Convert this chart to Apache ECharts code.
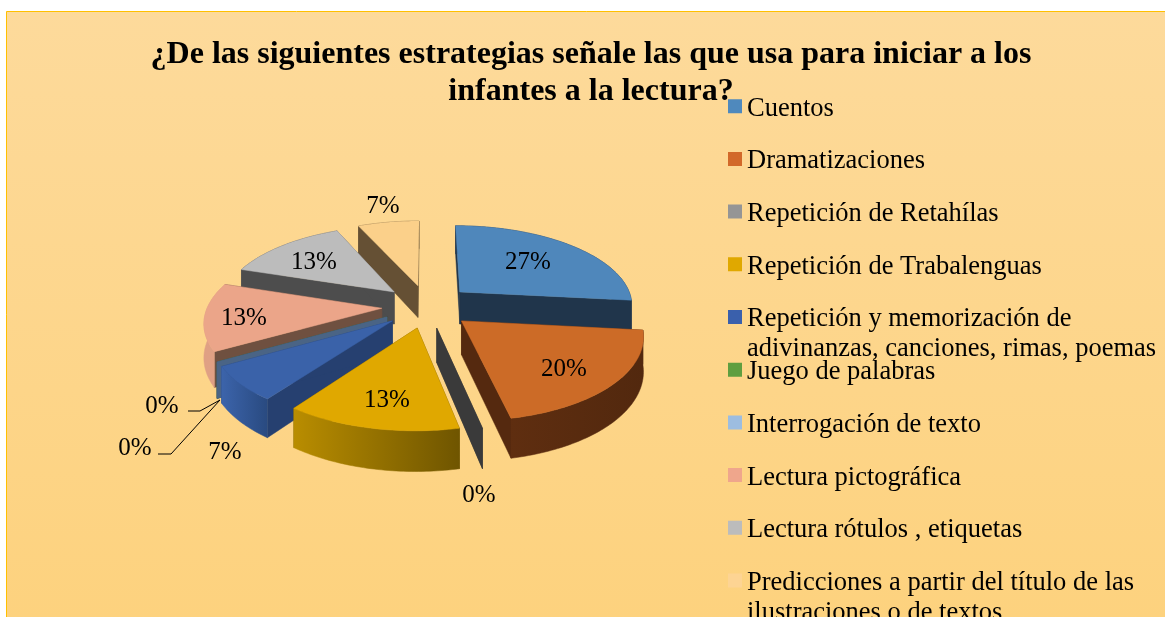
<!DOCTYPE html>
<html>
<head>
<meta charset="utf-8">
<style>html,body{margin:0;padding:0;background:#fff;overflow:hidden}#c{width:1165px;height:617px}</style>
<script src="https://cdn.jsdelivr.net/npm/echarts@6/dist/echarts.min.js"></script>
</head>
<body>
<div id="c"></div>
<script>
const titleText = '¿De las siguientes estrategias señale las que usa para iniciar a los\ninfantes a la lectura?';
const categories = ['Cuentos','Dramatizaciones','Repetición de Retahílas','Repetición de Trabalenguas',
  'Repetición y memorización de\nadivinanzas, canciones, rimas, poemas','Juego de palabras',
  'Interrogación de texto','Lectura pictográfica','Lectura rótulos , etiquetas',
  'Predicciones a partir del título de las\nilustraciones o de textos'];
const percentages = [26.7,20,0,13.3,6.7,0,0,13.3,13.3,6.7];

const topColors  = ['#4f87bb','#cc6b27','#a5a5a5','#e0a800','#3a62a9','#5f9e40','#9dbde0','#eba589','#bcbcbc','#fbd08a'];
const keyColors  = ['#4f89bd','#d2692a','#959595','#e0a800','#3a60ac','#5f9e40','#9dbde0','#efa68c','#bcbcbc','#fdd493'];
const faceColors = ['#20354b','#55290f','#3a3a3a','#6f5500','#264070','#3d5d2a','#4a6485','#6f5040','#4d4d4d','#655034'];
const rimLeft    = ['#20354b','#5f2e10','#3a3a3a','#b98d00','#3c64ab','#3d5d2a','#4a6485','#dfa084','#4d4d4d','#655034'];
const rimRight   = ['#20354b','#52280e','#3a3a3a','#6f5500','#294a80','#3d5d2a','#4a6485','#e0a084','#4d4d4d','#655034'];
const labelAnchors = [[528,262],[564,369],[479,495],[387,400],[225,452],[162,406],[135,448],[244,318],[314,262],[383,206]];
const leaders = {5:[[188,411],[200,411],[220,400]], 6:[[158,454],[171,454],[220,400]]};

const CX=427, CY=306, RX=174, RY=80, K=0.15, EXPLODE_X=0.26, EXPLODE_Y=0.27, DEPTH=33;
const FONT='"Liberation Serif","Times New Roman",serif';
const total = percentages.reduce((a,b)=>a+b,0);
const starts = []; { let acc=0; percentages.forEach(v=>{starts.push(acc/total*360); acc+=v;}); }

function project(X,Y){ const f=1/(1+K*Y); return [CX+RX*X*f, CY-RY*Y*f, f]; }
function sliceGeometry(value,i){
  const a0=starts[i], a1=a0+value/total*360, mid=(a0+a1)/2*Math.PI/180;
  const ex=EXPLODE_X*Math.sin(mid), ey=EXPLODE_Y*Math.cos(mid);
  const arc=[];
  for(let a=a0;;a+=1){ const d=Math.min(a,a1)*Math.PI/180;
    arc.push(project(ex+Math.sin(d),ey+Math.cos(d))); if(a>=a1) break; }
  return {apex:project(ex,ey),arc,mid};
}
const low=p=>[p[0],p[1]+DEPTH*p[2]], xy=p=>[p[0],p[1]];
function renderSlice(i){
  return function(params,api){
    const g=sliceGeometry(api.value(0),i), children=[];
    const poly=(pts,fill,stroke)=>children.push({type:'polygon',shape:{points:pts},style:{fill,stroke:stroke||fill,lineWidth:0.5},silent:true});
    const a=g.apex, first=g.arc[0], last=g.arc[g.arc.length-1];
    poly([xy(a),xy(first),low(first),low(a)],faceColors[i]);
    poly([xy(a),xy(last),low(last),low(a)],faceColors[i]);
    if(g.arc.length>1){
      poly(g.arc.map(xy).concat(g.arc.slice().reverse().map(low)),
        new echarts.graphic.LinearGradient(0,0,1,0,[{offset:0,color:rimLeft[i]},{offset:1,color:rimRight[i]}]));
      poly([xy(a)].concat(g.arc.map(xy)),topColors[i]);
    }
    if(leaders[i]) children.push({type:'polyline',shape:{points:leaders[i]},style:{stroke:'#000',lineWidth:1,fill:null},silent:true});
    children.push({type:'text',x:labelAnchors[i][0],y:labelAnchors[i][1],z2:50,silent:true,
      style:{text:Math.round(api.value(0))+'%',fill:'#000',font:'25px '+FONT,align:'center',verticalAlign:'middle'}});
    return {type:'group',children};
  };
}
const series=categories.map((name,i)=>{
  const mid=(starts[i]+percentages[i]/total*180)*Math.PI/180;
  return {type:'custom',name,coordinateSystem:'none',renderItem:renderSlice(i),
    z:Math.round(100-Math.cos(mid)*50),itemStyle:{color:keyColors[i]},data:[[percentages[i]]],silent:true,animation:false};
});
const legendFirst=108.7, legendStep=52.7, legendLine=30;
const legend=categories.map((name,i)=>{
  const wrapped=name.includes('\n');
  return {data:[name],orient:'vertical',left:728,top:legendFirst+i*legendStep-legendLine/2-(wrapped?legendLine:0),padding:0,
    icon:'path://M0,0L14,0L14,14L0,14ZM0,19L0,19L0,19Z',itemWidth:14,itemHeight:19,selectedMode:false,
    formatter:n=>n.includes('\n')?'\n'+n:n,
    textStyle:{color:'#000',fontFamily:FONT,fontSize:26.5,lineHeight:legendLine}};
});
const chart=echarts.init(document.getElementById('c'),null,{renderer:'canvas'});
chart.setOption({
  animation:false,
  graphic:[{type:'rect',z:-10,silent:true,shape:{x:6.5,y:11.5,width:1300,height:800},
    style:{stroke:'#ffc000',lineWidth:1,fill:new echarts.graphic.LinearGradient(0,0,0,1,[{offset:0,color:'#fdda9b'},{offset:0.76,color:'#fdd27e'},{offset:1,color:'#fdd27e'}])}}],
  title:{text:titleText,left:591,top:36,textAlign:'center',padding:0,
    textStyle:{fontFamily:FONT,fontWeight:'bold',fontSize:32,lineHeight:37,color:'#000'}},
  legend,series
});
</script>
</body>
</html>
